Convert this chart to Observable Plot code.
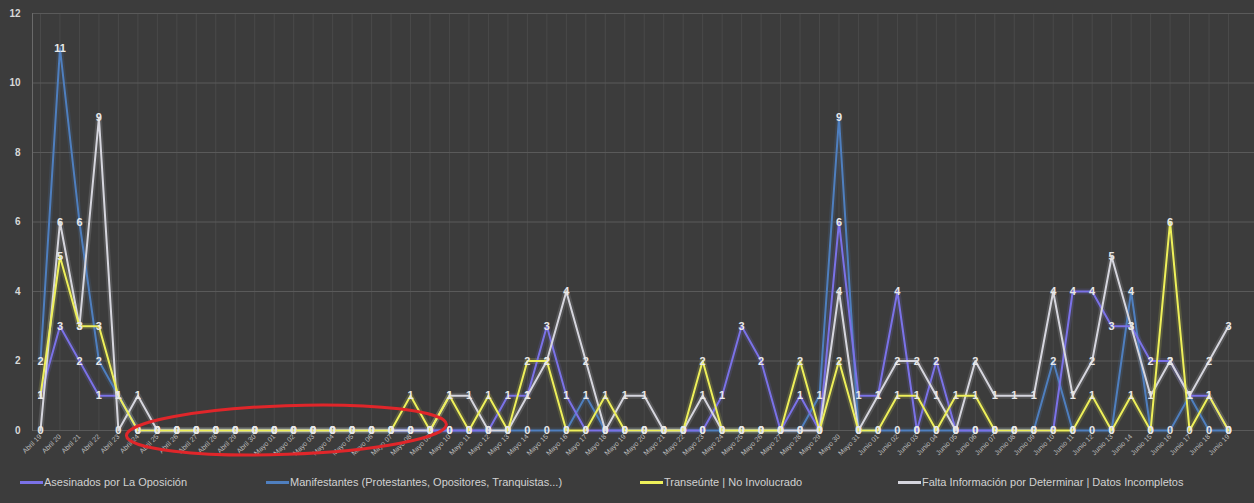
<!DOCTYPE html>
<html><head><meta charset="utf-8">
<script src="https://cdn.jsdelivr.net/npm/d3@7"></script>
<script src="https://cdn.jsdelivr.net/npm/@observablehq/plot@0.6"></script>
<style>
html,body{margin:0;padding:0;background:#fff;}
#wrap{position:relative;width:1254px;height:503px;background:#3c3c3c;overflow:hidden;font-family:"Liberation Sans",Arial,sans-serif;}
#chart svg{display:block;}
#legend{position:absolute;top:474px;left:0;width:1254px;height:18px;color:#d2d2d2;font-size:11px;}
.item{position:absolute;top:0;display:flex;align-items:center;white-space:nowrap;height:16px;}
.sw{width:23px;height:3px;margin-right:1px;}
</style></head><body>
<div id="wrap"><div id="chart"></div><div id="legend"></div></div>
<script>
const fechas = ["Abril 19","Abril 20","Abril 21","Abril 22","Abril 23","Abril 24","Abril 25","Abril 26","Abril 27","Abril 28","Abril 29","Abril 30",
"Mayo 01","Mayo 02","Mayo 03","Mayo 04","Mayo 05","Mayo 06","Mayo 07","Mayo 08","Mayo 09","Mayo 10","Mayo 11","Mayo 12","Mayo 13","Mayo 14","Mayo 15","Mayo 16","Mayo 17","Mayo 18","Mayo 19","Mayo 20","Mayo 21","Mayo 22","Mayo 23","Mayo 24","Mayo 25","Mayo 26","Mayo 27","Mayo 28","Mayo 29","Mayo 30","Mayo 31",
"Junio 01","Junio 02","Junio 03","Junio 04","Junio 05","Junio 06","Junio 07","Junio 08","Junio 09","Junio 10","Junio 11","Junio 12","Junio 13","Junio 14","Junio 15","Junio 16","Junio 17","Junio 18","Junio 19"];

const asesinados    = [1,3,2,1,1,0,0,0,0,0,0,0,0,0,0,0,0,0,0,0,0,0,0,0,1,1,3,1,0,0,0,0,0,0,0,1,3,2,0,1,0,6,1,1,4,0,2,0,0,0,0,0,0,4,4,3,3,2,2,1,1,0];
const manifestantes = [2,11,6,2,1,0,0,0,0,0,0,0,0,0,0,0,0,0,0,0,0,0,0,0,0,0,0,0,1,0,0,0,0,0,0,0,0,0,0,0,1,9,0,0,0,0,0,0,0,0,0,0,2,0,0,0,4,0,0,1,0,0];
const transeuntes   = [1,5,3,3,1,0,0,0,0,0,0,0,0,0,0,0,0,0,0,1,0,1,0,1,0,2,2,0,0,1,0,0,0,0,2,0,0,0,0,2,0,2,0,0,1,1,0,1,1,0,0,0,0,0,1,0,1,0,6,0,1,0];
const faltaInfo     = [0,6,3,9,0,1,0,0,0,0,0,0,0,0,0,0,0,0,0,0,0,1,1,0,0,1,2,4,2,0,1,1,0,0,1,0,0,0,0,0,0,4,0,1,2,2,1,0,2,1,1,1,4,1,2,5,3,1,2,1,2,3];

const series  = ["Asesinados por La Oposición","Manifestantes (Protestantes, Opositores, Tranquistas...)","Transeúnte | No Involucrado","Falta Información por Determinar | Datos Incompletos"];
const colores = ["#7b72e8","#4f7fbf","#eef05a","#d6d6de"];
const yTicks  = [0,2,4,6,8,10,12];
const circulo = ["Abril 24","Mayo 09"];

const valores = [asesinados, manifestantes, transeuntes, faltaInfo];
const ordenDibujo = [1,0,3,2];
const posiciones = fechas.map((f,i)=>i);
const tidy = [];
for (const s of ordenDibujo) valores[s].forEach((v,i)=>tidy.push({pos:i, fecha:fechas[i], valor:v, serie:series[s]}));

const ellipseMark = (index, scales) => {
  const x0 = scales.x(fechas.indexOf(circulo[0])), x1 = scales.x(fechas.indexOf(circulo[1]));
  const cx = (x0 + x1)/2 + 3, cy = scales.y(0);
  const rx = (x1 - x0)/2 + 14, ry = (scales.y(0) - scales.y(0.7));
  const g = d3.create("svg:g");
  g.append("ellipse").attr("cx",cx).attr("cy",cy).attr("rx",rx).attr("ry",ry)
   .attr("fill","none").attr("stroke","#e0262a").attr("stroke-width",3)
   .attr("transform",`rotate(-2 ${cx} ${cy})`);
  return g.node();
};

const chart = Plot.plot({
  width: 1254, height: 470,
  marginLeft: 32, marginRight: 0, marginTop: 13, marginBottom: 40,
  style: {background: "transparent", color: "#cfcfcf", fontFamily: "'Liberation Sans', Arial, sans-serif"},
  x: {type: "linear", domain: [0, fechas.length - 1], range: [40, 1228]},
  y: {domain: [0, 12]},
  color: {domain: series, range: colores},
  marks: [
    Plot.ruleX(posiciones, {stroke: "#4a4a4a", strokeWidth: 1}),
    Plot.gridY({ticks: yTicks, stroke: "#5a5a5a", strokeOpacity: 1}),
    Plot.frame({anchor: "left", stroke: "#6a6a6a"}),
    Plot.axisY({ticks: yTicks, tickSize: 0, tickPadding: 12, fontSize: 10, fontWeight: "bold", fill: "#d8d8d8", label: null}),
    Plot.axisX({ticks: posiciones, tickFormat: i => fechas[i], tickRotate: -45, tickSize: 0, tickPadding: 5, fontSize: 7, fill: "#bdbdbd", label: null}),
    Plot.line(tidy, {x: "pos", y: "valor", z: "serie", stroke: "serie", strokeWidth: 6, strokeOpacity: 0.15}),
    Plot.line(tidy, {x: "pos", y: "valor", z: "serie", stroke: "serie", strokeWidth: 2}),
    Plot.text(tidy, {x: "pos", y: "valor", text: "valor", fill: "#e8e8e8", fontSize: 11, fontWeight: "bold"}),
    ellipseMark
  ]
});
document.getElementById("chart").appendChild(chart);

const legend = document.getElementById("legend");
const lefts = [20, 266, 640, 898];
series.forEach((s,i)=>{
  const it = document.createElement("div");
  it.className = "item"; it.style.left = lefts[i] + "px";
  it.innerHTML = `<span class="sw" style="background:${colores[i]}"></span><span>${s}</span>`;
  legend.appendChild(it);
});
</script>
</body></html>
